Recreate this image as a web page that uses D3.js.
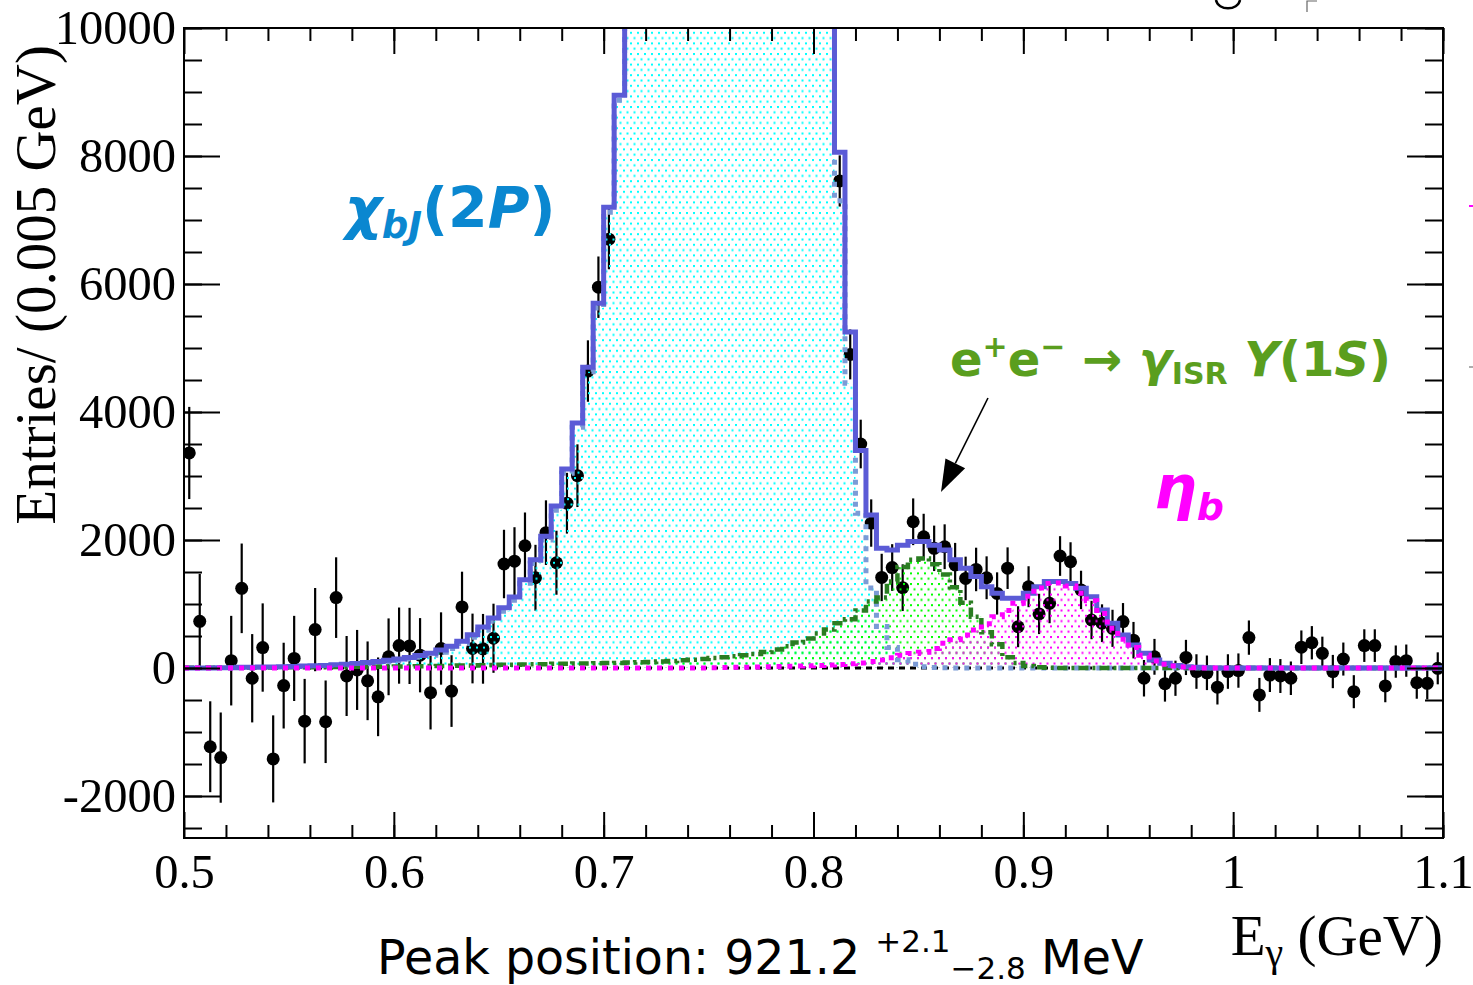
<!DOCTYPE html>
<html><head><meta charset="utf-8">
<script src="https://cdn.jsdelivr.net/npm/d3@7"></script>
<style>
html,body{margin:0;padding:0;background:#fff;}
svg{display:block;}
</style></head><body>
<svg id="chart" width="1473" height="985"></svg>
<script>
// Photon energy binning: 120 bins of 5 MeV between 0.5 and 1.1 GeV
const binStart = 0.5, binWidth = 0.005, nBins = 120;

// Background-subtracted data (entries per bin); null = off the top of the frame
const dataCounts = [
  3360, 730, -1230, -1400, 115, 1245, -160, 320, -1420, -275,
  150, -830, 600, -840, 1100, -125, -30, -200, -450, 175,
  350, 345, 200, -385, 305, -360, 955, 305, 300, 465,
  1625, 1670, 1910, 1410, 2115, 1645, 2575, 3005, 4640, 5950,
  6700, null, null, null, null, null, null, null, null, null,
  null, null, null, null, null, null, null, null, null, null,
  null, null, 7610, 4900, 3500, 2265, 1415, 1570, 1255, 2285,
  2050, 1870, 1895, 1610, 1400, 1540, 1410, 1165, 1560, 645,
  1270, 845, 1010, 1750, 1660, 1220, 750, 700, 620, 725,
  435, -160, 175, -245, -160, 165, -55, -75, -300, -55,
  -40, 475, -420, -110, -125, -160, 325, 395, 230, -55,
  140, -370, 350, 350, -280, 100, 115, -230, -240, -5
];
const dataErrors = [
  720, 740, 710, 705, 700, 700, 690, 690, 680, 670,
  665, 660, 650, 645, 630, 625, 625, 615, 615, 600,
  595, 595, 580, 575, 565, 560, 550, 545, 545, 540,
  535, 530, 520, 515, 505, 500, 475, 490, 480, 480,
  470, null, null, null, null, null, null, null, null, null,
  null, null, null, null, null, null, null, null, null, null,
  null, null, 400, 390, 380, 370, 370, 365, 365, 365,
  360, 355, 350, 345, 340, 340, 335, 330, 325, 320,
  320, 315, 310, 310, 305, 300, 300, 295, 290, 290,
  285, 285, 280, 280, 275, 275, 270, 270, 270, 270,
  268, 268, 265, 265, 265, 262, 262, 260, 260, 260,
  258, 258, 255, 255, 255, 252, 252, 250, 250, 250
];

// Fit result: total and its components (entries per bin)
const totalFit = [
  0, 0, 0, 5, 5, 10, 10, 15, 15, 20,
  25, 30, 35, 40, 50, 60, 70, 85, 100, 120,
  140, 165, 195, 230, 280, 340, 420, 520, 640, 780,
  940, 1110, 1380, 1690, 2060, 2530, 3110, 3830, 4700, 5700,
  7200, 8950, 11500, 14000, 17000, 20000, 23000, 26000, 28500, 30500,
  32000, 33000, 33000, 32000, 30000, 27500, 24500, 21000, 17500, 14000,
  11500, 11000, 8060, 5250, 3400, 2390, 1870, 1845, 1920, 1975,
  1975, 1920, 1845, 1690, 1560, 1430, 1270, 1170, 1090, 1090,
  1170, 1270, 1350, 1350, 1320, 1245, 1115, 905, 700, 515,
  360, 230, 125, 75, 40, 20, 10, 5, 0, 0,
  0, 0, 0, 0, 0, 0, 0, 0, 0, 0,
  0, 0, 0, 0, 0, 0, 0, 0, 0, 0
];
const chiFit = [
  0, 0, 0, 0, 0, 5, 2, 7, 7, 10,
  15, 20, 23, 28, 35, 45, 52, 65, 80, 98,
  115, 140, 167, 200, 248, 305, 382, 480, 595, 732,
  885, 1058, 1325, 1632, 2000, 2465, 3042, 3760, 4628, 5625,
  7122, 8870, 11400, 13900, 16900, 19900, 22890, 25880, 28370, 30360,
  31845, 32830, 32815, 31800, 29780, 27250, 24210, 20660, 17100, 13540,
  10960, 10400, 7300, 4450, 2420, 1250, 650, 320, 130, 60,
  20, 8, 3, 0, 0, 0, 0, 0, 0, 0,
  0, 0, 0, 0, 0, 0, 0, 0, 0, 0,
  0, 0, 0, 0, 0, 0, 0, 0, 0, 0,
  0, 0, 0, 0, 0, 0, 0, 0, 0, 0,
  0, 0, 0, 0, 0, 0, 0, 0, 0, 0
];
const isrFit = [
  5, 5, 5, 5, 5, 5, 8, 8, 8, 10,
  10, 10, 12, 12, 15, 15, 18, 20, 20, 22,
  25, 25, 28, 30, 32, 35, 38, 40, 45, 48,
  50, 52, 55, 58, 60, 65, 68, 70, 72, 75,
  78, 80, 85, 90, 95, 100, 110, 120, 130, 140,
  155, 170, 185, 200, 220, 250, 290, 340, 400, 460,
  540, 600, 700, 760, 900, 1040, 1100, 1350, 1580, 1690,
  1710, 1620, 1460, 1260, 1020, 800, 560, 370, 170, 80,
  30, 10, 5, 0, 0, 0, 0, 0, 0, 0,
  0, 0, 0, 0, 0, 0, 0, 0, 0, 0,
  0, 0, 0, 0, 0, 0, 0, 0, 0, 0,
  0, 0, 0, 0, 0, 0, 0, 0, 0, 0
];
const etaFit = [
  0, 0, 0, 0, 0, 0, 0, 0, 0, 0,
  0, 0, 0, 0, 0, 0, 0, 0, 0, 0,
  0, 0, 0, 0, 0, 0, 0, 0, 0, 0,
  0, 0, 0, 0, 0, 0, 0, 0, 0, 0,
  0, 0, 0, 0, 0, 0, 0, 0, 0, 0,
  5, 8, 10, 12, 15, 18, 22, 26, 30, 35,
  40, 48, 55, 65, 80, 100, 125, 160, 200, 225,
  245, 305, 385, 440, 515, 595, 690, 800, 900, 1010,
  1120, 1250, 1320, 1330, 1280, 1170, 1050, 850, 620, 450,
  320, 200, 110, 60, 30, 15, 5, 0, 0, 0,
  0, 0, 0, 0, 0, 0, 0, 0, 0, 0,
  0, 0, 0, 0, 0, 0, 0, 0, 0, 0
];
// Flat residual background
const bkgFit = [[0.5, 0], [1.1, 0]];

const xTicks = [0.5, 0.6, 0.7, 0.8, 0.9, 1.0, 1.1];
const xTickLabels = ["0.5", "0.6", "0.7", "0.8", "0.9", "1", "1.1"];
const yTicks = [-2000, 0, 2000, 4000, 6000, 8000, 10000];
const yTickLabels = ["-2000", "0", "2000", "4000", "6000", "8000", "10000"];
const xMinor = d3.range(0.52, 1.1, 0.02);
const yMinor = d3.range(-2500, 10001, 500);

// ---------- layout ----------
const frame = { left: 184, right: 1443, top: 28, bottom: 838 };
const x = d3.scaleLinear().domain([0.5, 1.1]).range([frame.left, frame.right]);
const y = d3.scaleLinear().domain([-2656, 10000]).range([frame.bottom, frame.top]);

const svg = d3.select('#chart');
const defs = svg.append('defs');
defs.append('clipPath').attr('id', 'frameClip')
  .append('rect').attr('x', frame.left).attr('y', frame.top)
  .attr('width', frame.right - frame.left).attr('height', frame.bottom - frame.top);

function dotPattern(id, color) {
  const p = defs.append('pattern').attr('id', id).attr('patternUnits', 'userSpaceOnUse')
    .attr('width', 7).attr('height', 10.6);
  p.append('rect').attr('x', 0).attr('y', 0).attr('width', 2).attr('height', 2).attr('fill', color);
  p.append('rect').attr('x', 3.5).attr('y', 5.3).attr('width', 2).attr('height', 2).attr('fill', color);
}
dotPattern('dotsCyan', '#00ffff');
dotPattern('dotsGreen', '#00ff00');
dotPattern('dotsMagenta', '#ff00ff');

function stepPoints(vals) {
  const pts = vals.map((v, i) => [binStart + i * binWidth, v]);
  pts.push([binStart + nBins * binWidth, vals[nBins - 1]]);
  return pts;
}
const stepLine = d3.line().x(d => x(d[0])).y(d => y(d[1])).curve(d3.curveStepAfter);
const stepArea = d3.area().x(d => x(d[0])).y0(y(0)).y1(d => y(d[1])).curve(d3.curveStepAfter);

const plot = svg.append('g').attr('clip-path', 'url(#frameClip)');

// data points with error bars
const pts = dataCounts.map((v, i) => ({ e: binStart + (i + 0.5) * binWidth, v, err: dataErrors[i] }))
  .filter(d => d.v !== null);
const dataG = plot.append('g');
dataG.selectAll('line').data(pts).join('line')
  .attr('x1', d => x(d.e)).attr('x2', d => x(d.e))
  .attr('y1', d => y(d.v - d.err)).attr('y2', d => y(d.v + d.err))
  .attr('stroke', '#000').attr('stroke-width', 2.2);
dataG.selectAll('circle').data(pts).join('circle')
  .attr('cx', d => x(d.e)).attr('cy', d => y(d.v)).attr('r', 6.5).attr('fill', '#000');

// dotted component areas
plot.append('path').attr('d', stepArea(stepPoints(chiFit))).attr('fill', 'url(#dotsCyan)');
plot.append('path').attr('d', stepArea(stepPoints(isrFit))).attr('fill', 'url(#dotsGreen)');
plot.append('path').attr('d', stepArea(stepPoints(etaFit))).attr('fill', 'url(#dotsMagenta)');

// component and total curves
plot.append('path').attr('d', d3.line().x(d => x(d[0])).y(d => y(d[1]))(bkgFit))
  .attr('fill', 'none').attr('stroke', '#000').attr('stroke-width', 3).attr('stroke-dasharray', '6,5');
plot.append('path').attr('d', stepLine(stepPoints(chiFit)))
  .attr('fill', 'none').attr('stroke', '#7b9bd6').attr('stroke-width', 5).attr('stroke-dasharray', '5,6');
plot.append('path').attr('d', stepLine(stepPoints(isrFit)))
  .attr('fill', 'none').attr('stroke', '#2a7d22').attr('stroke-width', 4.5).attr('stroke-dasharray', '10,4,3,4');
plot.append('path').attr('d', stepLine(stepPoints(totalFit)))
  .attr('fill', 'none').attr('stroke', '#5b5bd6').attr('stroke-width', 5);
plot.append('path').attr('d', stepLine(stepPoints(etaFit)))
  .attr('fill', 'none').attr('stroke', '#ff00ff').attr('stroke-width', 5).attr('stroke-dasharray', '5,6');

// ---------- axes ----------
function styleAxis(g) {
  g.select('.domain').remove();
  g.selectAll('line').attr('stroke', '#000').attr('stroke-width', 2);
  g.attr('font-family', '"Liberation Serif", serif').attr('font-size', 48.5);
  g.selectAll('text').attr('fill', '#000');
}
const fmtX = (d, i) => xTickLabels[i];
const fmtY = (d, i) => yTickLabels[i];
svg.append('g').attr('transform', `translate(0,${frame.bottom})`)
  .call(d3.axisBottom(x).tickValues(xTicks).tickSize(-26).tickPadding(16).tickFormat(fmtX)).call(styleAxis);
svg.append('g').attr('transform', `translate(0,${frame.bottom})`)
  .call(d3.axisBottom(x).tickValues(xMinor).tickSize(-13).tickFormat('')).call(styleAxis);
svg.append('g').attr('transform', `translate(0,${frame.top})`)
  .call(d3.axisTop(x).tickValues(xTicks).tickSize(-26).tickFormat('')).call(styleAxis);
svg.append('g').attr('transform', `translate(0,${frame.top})`)
  .call(d3.axisTop(x).tickValues(xMinor).tickSize(-13).tickFormat('')).call(styleAxis);
svg.append('g').attr('transform', `translate(${frame.left},0)`)
  .call(d3.axisLeft(y).tickValues(yTicks).tickSize(-36).tickPadding(8).tickFormat(fmtY)).call(styleAxis);
svg.append('g').attr('transform', `translate(${frame.left},0)`)
  .call(d3.axisLeft(y).tickValues(yMinor).tickSize(-18).tickFormat('')).call(styleAxis);
svg.append('g').attr('transform', `translate(${frame.right},0)`)
  .call(d3.axisRight(y).tickValues(yTicks).tickSize(-36).tickFormat('')).call(styleAxis);
svg.append('g').attr('transform', `translate(${frame.right},0)`)
  .call(d3.axisRight(y).tickValues(yMinor).tickSize(-18).tickFormat('')).call(styleAxis);

svg.append('rect').attr('x', frame.left).attr('y', frame.top)
  .attr('width', frame.right - frame.left).attr('height', frame.bottom - frame.top)
  .attr('fill', 'none').attr('stroke', '#000').attr('stroke-width', 2);

// axis titles
const serif = '"Liberation Serif", serif';
svg.append('text').attr('transform', 'translate(55,45) rotate(-90)')
  .attr('text-anchor', 'end').attr('font-family', serif).attr('font-size', 57)
  .text('Entries/ (0.005 GeV)');
const xt = svg.append('text').attr('x', frame.right).attr('y', 955)
  .attr('text-anchor', 'end').attr('font-family', serif).attr('font-size', 57);
xt.append('tspan').text('E');
xt.append('tspan').attr('font-size', 40).attr('dy', 11).text('γ');
xt.append('tspan').attr('dy', -11).text(' (GeV)');

// ---------- annotations ----------
const sans = '"DejaVu Sans", sans-serif';
const chiLab = svg.append('text').attr('x', 345).attr('y', 228)
  .attr('font-family', sans).attr('font-weight', 'bold').attr('font-size', 57).attr('fill', '#0a87d0');
chiLab.append('tspan').attr('font-style', 'italic').text('χ');
chiLab.append('tspan').attr('font-style', 'italic').attr('font-size', 37).attr('dy', 10).text('bJ');
chiLab.append('tspan').attr('dy', -10).text('(2');
chiLab.append('tspan').attr('font-style', 'italic').text('P');
chiLab.append('tspan').text(')');

const isrLab = svg.append('text').attr('x', 950).attr('y', 376)
  .attr('font-family', sans).attr('font-weight', 'bold').attr('font-size', 48).attr('fill', '#5a9e1e');
isrLab.append('tspan').text('e');
isrLab.append('tspan').attr('font-size', 30).attr('dy', -19).text('+');
isrLab.append('tspan').attr('dy', 19).text('e');
isrLab.append('tspan').attr('font-size', 30).attr('dy', -19).text('−');
isrLab.append('tspan').attr('dy', 19).text(' → ');
isrLab.append('tspan').attr('font-style', 'italic').text('γ');
isrLab.append('tspan').attr('font-size', 30).attr('dy', 8).text('ISR');
isrLab.append('tspan').attr('dy', -8).text(' ');
isrLab.append('tspan').attr('font-style', 'italic').text('Υ');
isrLab.append('tspan').text('(1');
isrLab.append('tspan').attr('font-style', 'italic').text('S');
isrLab.append('tspan').text(')');

const etaLab = svg.append('text').attr('x', 1154).attr('y', 508)
  .attr('font-family', sans).attr('font-weight', 'bold').attr('font-style', 'italic')
  .attr('font-size', 60).attr('fill', '#ff00ff');
etaLab.append('tspan').text('η');
etaLab.append('tspan').attr('font-size', 38).attr('dy', 12).text('b');

// arrow pointing at the ISR bump
const tip = [941, 492], tail = [988, 398];
const ang = Math.atan2(tip[1] - tail[1], tip[0] - tail[0]);
const headLen = 32, headHalf = 11;
const base = [tip[0] - headLen * Math.cos(ang), tip[1] - headLen * Math.sin(ang)];
svg.append('line').attr('x1', tail[0]).attr('y1', tail[1]).attr('x2', base[0]).attr('y2', base[1])
  .attr('stroke', '#000').attr('stroke-width', 1.6);
svg.append('path').attr('d', d3.line()([
  tip,
  [base[0] + headHalf * Math.sin(ang), base[1] - headHalf * Math.cos(ang)],
  [base[0] - headHalf * Math.sin(ang), base[1] + headHalf * Math.cos(ang)]
]) + 'Z').attr('fill', '#000');

// peak position summary
const peak = svg.append('text').attr('x', 377).attr('y', 974)
  .attr('font-family', sans).attr('font-size', 47.5).attr('fill', '#000');
peak.append('tspan').text('Peak position: 921.2 ');
peak.append('tspan').attr('font-size', 31).attr('dy', -22).text('+2.1');
peak.append('tspan').attr('font-size', 31).attr('dy', 27).text('−2.8');
peak.append('tspan').attr('dy', -5).text(' MeV');

// edges of neighbouring panel elements cut by the canvas border
svg.append('path').attr('d', 'M1216,0 C1218,11 1238,11 1240,0')
  .attr('fill', 'none').attr('stroke', '#000').attr('stroke-width', 2.5);
svg.append('path').attr('d', 'M1317,1 L1307,1 L1307,12')
  .attr('fill', 'none').attr('stroke', '#666').attr('stroke-width', 1.2);
svg.append('line').attr('x1', 1469).attr('x2', 1473).attr('y1', 206).attr('y2', 206)
  .attr('stroke', '#ff00ff').attr('stroke-width', 2);
svg.append('line').attr('x1', 1469).attr('x2', 1473).attr('y1', 367).attr('y2', 367)
  .attr('stroke', '#777').attr('stroke-width', 1.2);
</script>
</body></html>
